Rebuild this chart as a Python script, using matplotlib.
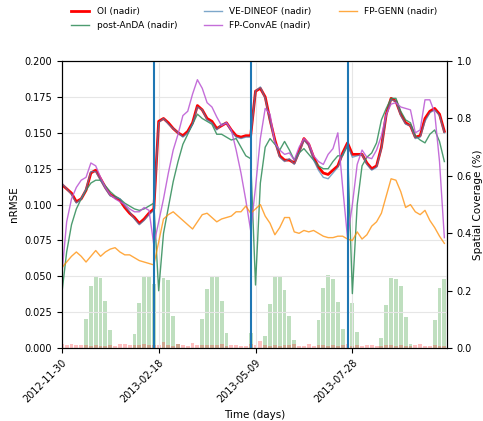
import numpy as np
import matplotlib
matplotlib.use('Agg')
import matplotlib.pyplot as plt
from matplotlib.ticker import FormatStrFormatter

# one value every 4 days over the 4 concatenated test periods
days = np.arange(0, 320, 4)
tick_days = [0, 80, 160, 240]
tick_labels = ['2012-11-30', '2013-02-18', '2013-05-09', '2013-07-28']
period_ends = [76, 156, 236]

oi = [0.114, 0.111, 0.108, 0.102, 0.104, 0.110, 0.122, 0.124, 0.118, 0.112,
      0.107, 0.105, 0.103, 0.098, 0.094, 0.091, 0.087, 0.090, 0.094, 0.097,
      0.158, 0.160, 0.157, 0.153, 0.150, 0.148, 0.151, 0.157, 0.169, 0.166,
      0.160, 0.158, 0.153, 0.155, 0.157, 0.152, 0.148, 0.147, 0.148, 0.148,
      0.179, 0.181, 0.175, 0.159, 0.145, 0.134, 0.131, 0.131, 0.129, 0.137,
      0.146, 0.142, 0.133, 0.126, 0.122, 0.121, 0.124, 0.127, 0.136, 0.143,
      0.135, 0.135, 0.135, 0.129, 0.125, 0.127, 0.140, 0.163, 0.174, 0.172,
      0.163, 0.157, 0.155, 0.147, 0.148, 0.160, 0.165, 0.167, 0.163, 0.151]

post_anda = [0.038, 0.067, 0.086, 0.097, 0.104, 0.110, 0.115, 0.117, 0.117, 0.113,
             0.109, 0.106, 0.104, 0.101, 0.099, 0.097, 0.096, 0.097, 0.099, 0.101,
             0.040, 0.080, 0.098, 0.116, 0.130, 0.142, 0.149, 0.156, 0.163, 0.160,
             0.158, 0.156, 0.149, 0.149, 0.147, 0.145, 0.146, 0.140, 0.134, 0.132,
             0.044, 0.115, 0.140, 0.146, 0.142, 0.138, 0.144, 0.138, 0.131, 0.136,
             0.139, 0.135, 0.131, 0.127, 0.125, 0.125, 0.130, 0.134, 0.134, 0.141,
             0.038, 0.100, 0.127, 0.133, 0.136, 0.143, 0.159, 0.167, 0.174, 0.174,
             0.165, 0.159, 0.157, 0.148, 0.145, 0.143, 0.149, 0.152, 0.144, 0.130]

ve_dineof = [0.115, 0.111, 0.107, 0.101, 0.104, 0.111, 0.123, 0.123, 0.117, 0.111,
             0.106, 0.105, 0.104, 0.099, 0.095, 0.090, 0.086, 0.089, 0.093, 0.096,
             0.157, 0.160, 0.156, 0.153, 0.150, 0.147, 0.150, 0.156, 0.168, 0.166,
             0.159, 0.157, 0.152, 0.156, 0.157, 0.151, 0.147, 0.146, 0.147, 0.147,
             0.179, 0.182, 0.174, 0.158, 0.144, 0.133, 0.130, 0.132, 0.128, 0.136,
             0.145, 0.141, 0.131, 0.124, 0.119, 0.118, 0.122, 0.126, 0.135, 0.142,
             0.133, 0.134, 0.135, 0.128, 0.124, 0.126, 0.139, 0.162, 0.173, 0.172,
             0.162, 0.156, 0.155, 0.146, 0.147, 0.158, 0.164, 0.166, 0.162, 0.150]

fp_convae = [0.051, 0.088, 0.104, 0.112, 0.117, 0.119, 0.129, 0.127, 0.119, 0.112,
             0.107, 0.104, 0.102, 0.100, 0.097, 0.095, 0.095, 0.098, 0.096, 0.072,
             0.088, 0.104, 0.122, 0.138, 0.149, 0.162, 0.165, 0.177, 0.187, 0.181,
             0.171, 0.168, 0.161, 0.155, 0.157, 0.152, 0.138, 0.122, 0.103, 0.082,
             0.112, 0.146, 0.167, 0.163, 0.143, 0.138, 0.135, 0.136, 0.131, 0.140,
             0.146, 0.143, 0.134, 0.130, 0.128, 0.135, 0.139, 0.150, 0.112, 0.077,
             0.100, 0.128, 0.138, 0.133, 0.132, 0.138, 0.148, 0.163, 0.170, 0.171,
             0.168, 0.167, 0.166, 0.150, 0.152, 0.173, 0.173, 0.164, 0.130, 0.077]

fp_genn = [0.056, 0.060, 0.064, 0.067, 0.064, 0.060, 0.064, 0.068, 0.064, 0.067,
           0.069, 0.070, 0.067, 0.065, 0.065, 0.063, 0.061, 0.060, 0.059, 0.058,
           0.074, 0.090, 0.093, 0.095, 0.092, 0.089, 0.086, 0.083, 0.088, 0.093,
           0.094, 0.091, 0.088, 0.090, 0.091, 0.092, 0.095, 0.095, 0.099, 0.094,
           0.097, 0.100, 0.092, 0.087, 0.079, 0.084, 0.091, 0.091, 0.081, 0.080,
           0.082, 0.081, 0.082, 0.080, 0.078, 0.077, 0.077, 0.078, 0.078, 0.076,
           0.075, 0.081, 0.076, 0.079, 0.085, 0.088, 0.094, 0.106, 0.118, 0.117,
           0.109, 0.098, 0.100, 0.095, 0.093, 0.096, 0.089, 0.084, 0.078, 0.073]

# spatial coverage (fraction) : large swath-like bursts and small nadir coverage
cov_green = [0.0, 0.0, 0.0, 0.0, 0.0, 0.103, 0.215, 0.251, 0.246, 0.163,
             0.065, 0.0, 0.0, 0.0, 0.0, 0.051, 0.157, 0.249, 0.253, 0.225,
             0.0, 0.243, 0.237, 0.111, 0.014, 0.0, 0.0, 0.0, 0.0, 0.103,
             0.207, 0.251, 0.251, 0.166, 0.052, 0.0, 0.0, 0.0, 0.0, 0.053,
             0.0, 0.0, 0.042, 0.153, 0.251, 0.251, 0.202, 0.111, 0.028, 0.0,
             0.0, 0.0, 0.0, 0.099, 0.208, 0.255, 0.241, 0.161, 0.067, 0.0,
             0.158, 0.056, 0.0, 0.0, 0.0, 0.0, 0.037, 0.150, 0.245, 0.240,
             0.216, 0.109, 0.014, 0.0, 0.0, 0.0, 0.0, 0.098, 0.208, 0.240]

cov_pink = [0.014, 0.012, 0.016, 0.012, 0.012, 0.010, 0.009, 0.010, 0.009, 0.008,
            0.010, 0.007, 0.013, 0.014, 0.010, 0.010, 0.012, 0.014, 0.011, 0.012,
            0.010, 0.021, 0.012, 0.009, 0.015, 0.010, 0.006, 0.019, 0.010, 0.012,
            0.012, 0.010, 0.011, 0.014, 0.009, 0.010, 0.012, 0.007, 0.008, 0.014,
            0.010, 0.026, 0.011, 0.008, 0.012, 0.009, 0.012, 0.010, 0.014, 0.008,
            0.007, 0.016, 0.009, 0.010, 0.012, 0.008, 0.011, 0.009, 0.010, 0.014,
            0.008, 0.010, 0.007, 0.012, 0.011, 0.009, 0.007, 0.010, 0.012, 0.008,
            0.011, 0.009, 0.006, 0.012, 0.014, 0.009, 0.007, 0.010, 0.008, 0.009]


def plot_scores(out_file):
    fig = plt.figure(figsize=(4.83, 4.21), dpi=100)
    ax = fig.add_axes([0.128, 0.173, 0.797, 0.682])
    ax2 = ax.twinx()

    ax2.bar(days, cov_green, width=3.2, color='green', alpha=0.25)
    ax2.bar(days, cov_pink, width=3.2, color='red', alpha=0.25)
    ax2.set_ylim(0, 1)
    ax2.set_ylabel('Spatial Coverage (%)', fontsize=7.5, labelpad=1)
    ax2.tick_params(labelsize=7)

    ax.set_zorder(ax2.get_zorder() + 1)
    ax.patch.set_visible(False)
    ax.grid(color='0.9', lw=0.8)

    ax.plot(days, oi, color='red', lw=2, label='OI (nadir)')
    ax.plot(days, post_anda, color='seagreen', lw=1, alpha=0.85, label='post-AnDA (nadir)')
    ax.plot(days, ve_dineof, color='steelblue', lw=1, alpha=0.7, label='VE-DINEOF (nadir)')
    ax.plot(days, fp_convae, color='mediumorchid', lw=1, alpha=0.85, label='FP-ConvAE (nadir)')
    ax.plot(days, fp_genn, color='darkorange', lw=1, alpha=0.75, label='FP-GENN (nadir)')
    for d in period_ends:
        ax.axvline(d, color='tab:blue', lw=1.5)

    ax.set_xlim(0, 318)
    ax.set_ylim(0, 0.2)
    ax.set_yticks(np.arange(0, 0.2001, 0.025))
    ax.yaxis.set_major_formatter(FormatStrFormatter('%.3f'))
    ax.set_xticks(tick_days)
    ax.set_xticklabels(tick_labels, rotation=45, ha='right', rotation_mode='anchor')
    ax.tick_params(labelsize=7)
    ax.set_xlabel('Time (days)', fontsize=7.5)
    ax.set_ylabel('nRMSE', fontsize=7.5)

    ax.legend(loc='lower center', bbox_to_anchor=(0.5, 1.08), ncol=3,
              frameon=False, fontsize=6.5, columnspacing=3.0)
    fig.savefig(out_file)


if __name__ == '__main__':
    plot_scores('out.png')
